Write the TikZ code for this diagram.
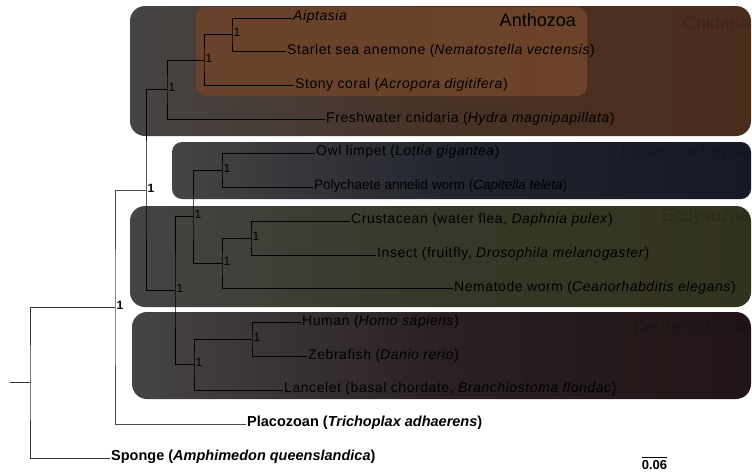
\documentclass[tikz,border=0pt]{standalone}
\usepackage{fontspec}
\setmainfont{Liberation Sans}
\newfontfamily\leaffont{Liberation Sans}[LetterSpace=4]

\definecolor{boxgray}{HTML}{464444}
\definecolor{cnidbrown}{HTML}{4A2C1B}
\definecolor{anthorange}{HTML}{6C4229}
\definecolor{lophonavy}{HTML}{151926}
\definecolor{ecdyolive}{HTML}{32331E}
\definecolor{deutred}{HTML}{211416}

\begin{document}
\begin{tikzpicture}[x=1pt, y=-1pt,
    branch/.style={line width=0.9pt, black},
    leaf/.style={anchor=base west, inner sep=0pt, xshift=1pt, yshift=-2.5pt, font=\leaffont\fontsize{14}{16}\selectfont},
    boldleaf/.style={leaf, font=\bfseries\fontsize{14.5}{16}\selectfont},
    support/.style={anchor=base west, inner sep=0pt, xshift=1.5pt, yshift=-2pt, font=\fontsize{12}{14}\selectfont},
    groupname/.style={anchor=east, inner sep=0pt, font=\fontsize{18}{20}\selectfont, text=black, text opacity=0.16}]
    \useasboundingbox (0,0) rectangle (752,472);
    \clip (0,0) rectangle (752,472);

    % Clade boxes
    \shade[rounded corners=15pt, left color=boxgray, right color=cnidbrown, middle color=cnidbrown!75!boxgray] (130,6) rectangle (751,136);
    \shade[rounded corners=10pt, left color=anthorange!90!boxgray, right color=anthorange] (196,7) rectangle (587,96);
    \shade[rounded corners=10pt, left color=boxgray, right color=lophonavy, middle color=lophonavy!75!boxgray] (172,142) rectangle (751,199);
    \shade[rounded corners=15pt, left color=boxgray, right color=ecdyolive, middle color=ecdyolive!75!boxgray] (130,206) rectangle (751,307);
    \shade[rounded corners=15pt, left color=boxgray, right color=deutred, middle color=deutred!75!boxgray] (132,312) rectangle (751,399);

    \node[groupname] (gCnid) at (750,23) {Cnidaria};
    \node[groupname] (gLoph) at (750,153) {Lophotrochozoa};
    \node[groupname] (gEcdy) at (750,217) {Ecdysozoa};
    \node[groupname] (gDeut) at (750,327) {Deuterostomia};
    \node[groupname, text opacity=1] (gAnth) at (576,20) {Anthozoa};

    % Tips
    \coordinate (tAip) at (292,18.0);
    \coordinate (tNve) at (286,51.8);
    \coordinate (tAdi) at (294,85.7);
    \coordinate (tHma) at (325,119.5);
    \coordinate (tLgi) at (315,153.4);
    \coordinate (tCte) at (313,187.2);
    \coordinate (tDpu) at (350,221.1);
    \coordinate (tDme) at (376,255.0);
    \coordinate (tCel) at (453,288.8);
    \coordinate (tHsa) at (301,322.6);
    \coordinate (tDre) at (307,356.5);
    \coordinate (tBfl) at (283,390.3);
    \coordinate (tTad) at (246,424.2);
    \coordinate (tAqu) at (110,458.0);

    % Internal nodes
    \coordinate (nAipNve) at (232,34.9);
    \coordinate (nAnth) at (204,60.3);
    \coordinate (nCnid) at (167,89.9);
    \coordinate (nLoph) at (222,170.3);
    \coordinate (nArth) at (251,238.1);
    \coordinate (nEcdy) at (222,263.4);
    \coordinate (nProt) at (193,216.9);
    \coordinate (nVert) at (252,339.6);
    \coordinate (nDeut) at (194,364.9);
    \coordinate (nBila) at (175,290.9);
    \coordinate (nEume) at (146,190.4);
    \coordinate (nPara) at (115,307.3);
    \coordinate (nRoot) at (30,382.7);
    \coordinate (stub) at (10,382.7);

    % Branches
    \draw[branch] (tAip) -| (nAipNve) |- (tNve);
    \draw[branch] (nAipNve) -| (nAnth) |- (tAdi);
    \draw[branch] (nAnth) -| (nCnid) |- (tHma);
    \draw[branch] (tLgi) -| (nLoph) |- (tCte);
    \draw[branch] (tDpu) -| (nArth) |- (tDme);
    \draw[branch] (nArth) -| (nEcdy) |- (tCel);
    \draw[branch] (nLoph) -| (nProt) |- (nEcdy);
    \draw[branch] (tHsa) -| (nVert) |- (tDre);
    \draw[branch] (nVert) -| (nDeut) |- (tBfl);
    \draw[branch] (nProt) -| (nBila) |- (nDeut);
    \draw[branch] (nCnid) -| (nEume) |- (nBila);
    \draw[branch, black!70] (nEume) -| (nPara) |- (tTad);
    \draw[branch, black!80] (nPara) -| (nRoot) |- (tAqu);
    \draw[branch, black!80] (nRoot) -- (stub);

    % Support values
    \node[support] (sAipNve) at (nAipNve) {1};
    \node[support] (sAnth) at (nAnth) {1};
    \node[support] (sCnid) at (nCnid) {1};
    \node[support] (sLoph) at (nLoph) {1};
    \node[support] (sArth) at (nArth) {1};
    \node[support] (sEcdy) at (nEcdy) {1};
    \node[support] (sProt) at (nProt) {1};
    \node[support] (sVert) at (nVert) {1};
    \node[support] (sDeut) at (nDeut) {1};
    \node[support] (sBila) at (nBila) {1};
    \node[support, font=\bfseries\fontsize{12}{14}\selectfont] (sEume) at (nEume) {1};
    \node[support, font=\bfseries\fontsize{12}{14}\selectfont] (sPara) at (nPara) {1};

    % Taxa
    \node[leaf] (lAip) at (tAip) {\textit{Aiptasia}};
    \node[leaf] (lNve) at (tNve) {Starlet sea anemone (\textit{Nematostella vectensis})};
    \node[leaf] (lAdi) at (tAdi) {Stony coral (\textit{Acropora digitifera})};
    \node[leaf] (lHma) at (tHma) {Freshwater cnidaria (\textit{Hydra magnipapillata})};
    \node[leaf] (lLgi) at (tLgi) {Owl limpet (\textit{Lottia gigantea})};
    \node[leaf, font=\fontsize{13.5}{16}\selectfont] (lCte) at (tCte) {Polychaete annelid worm (\textit{Capitella teleta})};
    \node[leaf] (lDpu) at (tDpu) {Crustacean (water flea, \textit{Daphnia pulex})};
    \node[leaf] (lDme) at (tDme) {Insect (fruitfly, \textit{Drosophila melanogaster})};
    \node[leaf] (lCel) at (tCel) {Nematode worm (\textit{Ceanorhabditis elegans})};
    \node[leaf] (lHsa) at (tHsa) {Human (\textit{Homo sapiens})};
    \node[leaf] (lDre) at (tDre) {Zebrafish (\textit{Danio rerio})};
    \node[leaf] (lBfl) at (tBfl) {Lancelet (basal chordate, \textit{Branchiostoma flondac})};
    \node[boldleaf] (lTad) at (tTad) {Placozoan (\textit{Trichoplax adhaerens})};
    \node[boldleaf] (lAqu) at (tAqu) {Sponge (\textit{Amphimedon queenslandica})};

    % Scale bar
    \coordinate (barL) at (642,457.5);
    \coordinate (barR) at (667,457.5);
    \draw[line width=0.9pt] (barL) -- (barR);
    \node[font=\bfseries\fontsize{13}{15}\selectfont, inner sep=0pt] (barLab) at (654.5,465.5) {0.06};
\end{tikzpicture}
\end{document}
